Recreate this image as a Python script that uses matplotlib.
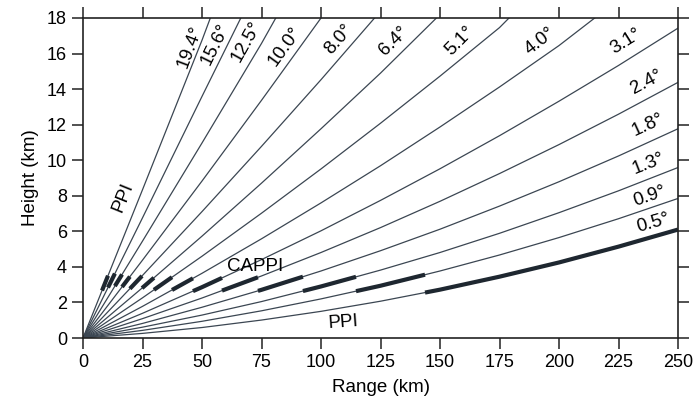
import numpy as np
import matplotlib
matplotlib.use("Agg")
import matplotlib.pyplot as plt

plt.rcParams["font.family"] = ["Liberation Sans", "DejaVu Sans"]

# elevation angles (deg), lowest first
elevations = [0.5, 0.9, 1.3, 1.8, 2.4, 3.1, 4.0, 5.1, 6.4, 8.0, 10.0, 12.5, 15.6, 19.4]
angle_labels = ["0.5°", "0.9°", "1.3°", "1.8°", "2.4°", "3.1°", "4.0°",
                "5.1°", "6.4°", "8.0°", "10.0°", "12.5°", "15.6°", "19.4°"]

# beam height (km) read every 25 km of range
range_grid = [0, 25, 50, 75, 100, 125, 150, 175, 200, 225, 250]
h_05 = [0, 0.26, 0.59, 1.01, 1.50, 2.07, 2.72, 3.45, 4.25, 5.14, 6.10]
h_09 = [0, 0.43, 0.94, 1.53, 2.20, 2.94, 3.77, 4.67, 5.65, 6.71, 7.85]
h_13 = [0, 0.61, 1.29, 2.05, 2.90, 3.82, 4.81, 5.89, 7.05, 8.28, 9.59]
h_18 = [0, 0.82, 1.73, 2.71, 3.77, 4.91, 6.12, 7.42, 8.79, 10.24, 11.77]
h_24 = [0, 1.09, 2.25, 3.49, 4.81, 6.21, 7.69, 9.25, 10.88, 12.59, 14.38]
h_31 = [0, 1.39, 2.86, 4.41, 6.03, 7.74, 9.52, 11.38, 13.32, 15.33, 17.43]
h_40 = [0, 1.78, 3.64, 5.58, 7.60, 9.69, 11.87, 14.12, 16.45]
h_51 = [0, 2.26, 4.60, 7.02, 9.51, 12.08, 14.73, 17.46]
h_64 = [0, 2.83, 5.73, 8.71, 11.77, 14.90]
h_80 = [0, 3.52, 7.11, 10.78, 14.53]
h_100 = [0, 4.38, 8.83, 13.37]
h_125 = [0, 5.45, 10.97, 16.57]
h_156 = [0, 6.76, 13.59]
h_194 = [0, 8.34, 16.75]
beam_heights = [h_05, h_09, h_13, h_18, h_24, h_31, h_40,
                h_51, h_64, h_80, h_100, h_125, h_156, h_194]

# range (km) where the beam reaches the 18 km top (None = stays below)
top_range = [None, None, None, None, None, None, 215.0,
             179.0, 148.5, 122.5, 100.0, 81.0, 66.3, 53.5]

# CAPPI range boundaries (km): 0.5 deg uses 143.7-250, 0.9 deg 114.7-143.7, ...
cappi_edges = [250.0, 143.7, 114.7, 92.4, 73.5, 58.4, 46.2, 37.4,
               29.8, 24.8, 19.7, 16.4, 13.4, 10.5, 8.0]

# label positions (range km, height km)
label_r = [239.5, 238.2, 237.8, 237.4, 237.0, 228.2, 192.0,
           158.4, 130.7, 107.6, 84.9, 68.9, 55.5, 45.0]
label_h = [6.45, 7.95, 9.8, 12.0, 14.4, 16.7, 16.7,
           16.7, 16.7, 16.8, 16.4, 16.7, 16.5, 16.4]

thin_color = "#3b4652"
thick_color = "#1e2730"
fs = 13.5

fig = plt.figure(figsize=(6.94, 4.05), dpi=100)
ax = fig.add_axes([0.1196, 0.1654, 0.8574, 0.7902])
ax.set_xlim(0, 250)
ax.set_ylim(0, 18)

for i, elev in enumerate(elevations):
    h = list(beam_heights[i])
    r = list(range_grid[:len(h)])
    if top_range[i] is not None:
        r.append(top_range[i])
        h.append(18.0)
    ax.plot(r, h, color=thin_color, lw=0.9)

    # bold CAPPI piece of this beam
    lo, hi = cappi_edges[i + 1], cappi_edges[i]
    rs = [lo] + [x for x in r if lo < x < hi] + [hi]
    ax.plot(rs, np.interp(rs, r, h), color=thick_color, lw=3.0,
            solid_capstyle="butt")

    # label rotated along the end of the beam
    p = ax.transData.transform([[r[-2], h[-2]], [r[-1], h[-1]]])
    rot = np.degrees(np.arctan2(p[1, 1] - p[0, 1], p[1, 0] - p[0, 0]))
    ax.text(label_r[i], label_h[i], angle_labels[i], fontsize=fs,
            rotation=rot, rotation_mode="anchor", ha="center", va="center")

ax.text(17.0, 7.9, "PPI", fontsize=fs, rotation=68, ha="center", va="center")
ax.text(109.5, 0.85, "PPI", fontsize=fs, rotation=4, ha="center", va="center")
ax.text(72.5, 4.0, "CAPPI", fontsize=fs, ha="center", va="center")

ax.set_xticks(np.arange(0, 251, 25))
ax.set_yticks(np.arange(0, 19, 2))
ax.tick_params(direction="out", length=8, width=1.1, top=True, right=True,
               labeltop=False, labelright=False, labelsize=13, color="#222222")
for s in ax.spines.values():
    s.set_linewidth(1.2)
    s.set_color("#222222")

ax.set_xlabel("Range (km)", fontsize=fs, labelpad=6)
ax.set_ylabel("Height (km)", fontsize=fs, labelpad=6)

fig.savefig("out.png", dpi=100)
